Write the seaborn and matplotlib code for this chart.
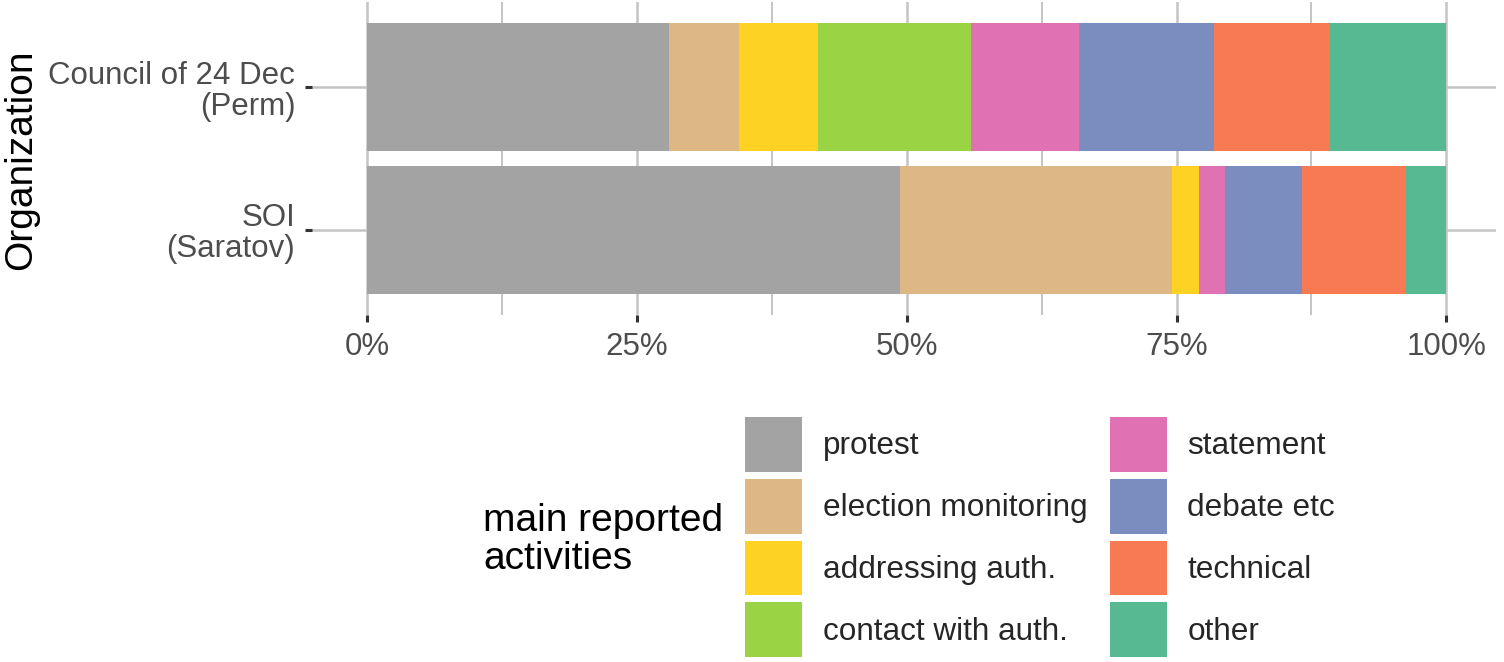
import numpy as np
import pandas as pd
import matplotlib
matplotlib.use("Agg")
import matplotlib.pyplot as plt
import matplotlib.patches as mpatches
import seaborn as sns

# data (percent of reported activities)
organizations = ["Council of 24 Dec\n(Perm)", "SOI\n(Saratov)"]
activities = ["protest", "election monitoring", "addressing auth.", "contact with auth.",
              "statement", "debate etc", "technical", "other"]
council = [28.0, 6.5, 7.3, 14.2, 10.0, 12.5, 10.7, 10.8]
soi = [49.4, 25.2, 2.5, 0.0, 2.4, 7.1, 9.7, 3.7]
colors = ["#A3A3A3", "#DDB884", "#FDD223", "#9AD444",
          "#E072B3", "#7B8DBE", "#F87A52", "#56B991"]

sns.set_style("white")
plt.rcParams["font.family"] = ["Liberation Sans", "DejaVu Sans"]

df = pd.DataFrame({"org": np.repeat(organizations, len(activities)),
                   "activity": activities * 2,
                   "share": council + soi})
df["activity"] = pd.Categorical(df["activity"], categories=activities, ordered=True)
df = df.sort_values(["org", "activity"])
df["cum"] = df.groupby("org")["share"].cumsum()

fig = plt.figure(figsize=(15.04, 6.62), dpi=100)
ax = fig.add_axes([312 / 1504, 1 - 315 / 662, 1184 / 1504, 313 / 662])

# stacked bars: draw the cumulative totals from the last activity back to the first
for act, col in reversed(list(zip(activities, colors))):
    sub = df[df["activity"] == act]
    sns.barplot(data=sub, x="cum", y="org", order=organizations, color=col,
                orient="h", width=0.9, saturation=1, linewidth=0, ax=ax, zorder=2)

ax.set_xlim(-5.1, 104.6)
ax.set_ylim(1.6, -0.6)
ax.set_xticks([0, 25, 50, 75, 100])
ax.set_xticklabels(["0%", "25%", "50%", "75%", "100%"])
ax.set_xticks([12.5, 37.5, 62.5, 87.5], minor=True)
ax.grid(True, which="major", axis="both", color="#C4C4C4", linewidth=1.8, zorder=0)
ax.grid(True, which="minor", axis="x", color="#C4C4C4", linewidth=1.4, zorder=0)
ax.set_axisbelow(True)
for s in ax.spines.values():
    s.set_visible(False)
ax.tick_params(axis="both", which="major", left=True, bottom=True, length=5, width=2.2,
               color="#333333", labelsize=22.5, labelcolor="#4D4D4D", pad=7)
ax.tick_params(axis="x", which="minor", length=0)
for t in ax.get_yticklabels():
    t.set_horizontalalignment("right")
    t.set_multialignment("right")
    t.set_linespacing(1.05)

ax.set_xlabel("")
ax.set_ylabel("")
fig.text(21 / 1504, 1 - 160 / 662, "Organization", fontsize=28, color="black",
         rotation=90, ha="center", va="center")

handles = [mpatches.Patch(facecolor=c, edgecolor="none") for c in colors]
fig.legend(handles, activities, ncol=2, loc="upper left",
           bbox_to_anchor=(745 / 1504, 1 - 417 / 662), frameon=False,
           fontsize=22.7, handlelength=1.8, handleheight=2.3, handletextpad=0.66,
           labelspacing=0.22, columnspacing=0.72, borderpad=0, borderaxespad=0)
fig.text(483 / 1504, 1 - 540 / 662, "main reported\nactivities", fontsize=28,
         color="black", ha="left", va="center", linespacing=1.1)

fig.savefig("out.png", dpi=100)
